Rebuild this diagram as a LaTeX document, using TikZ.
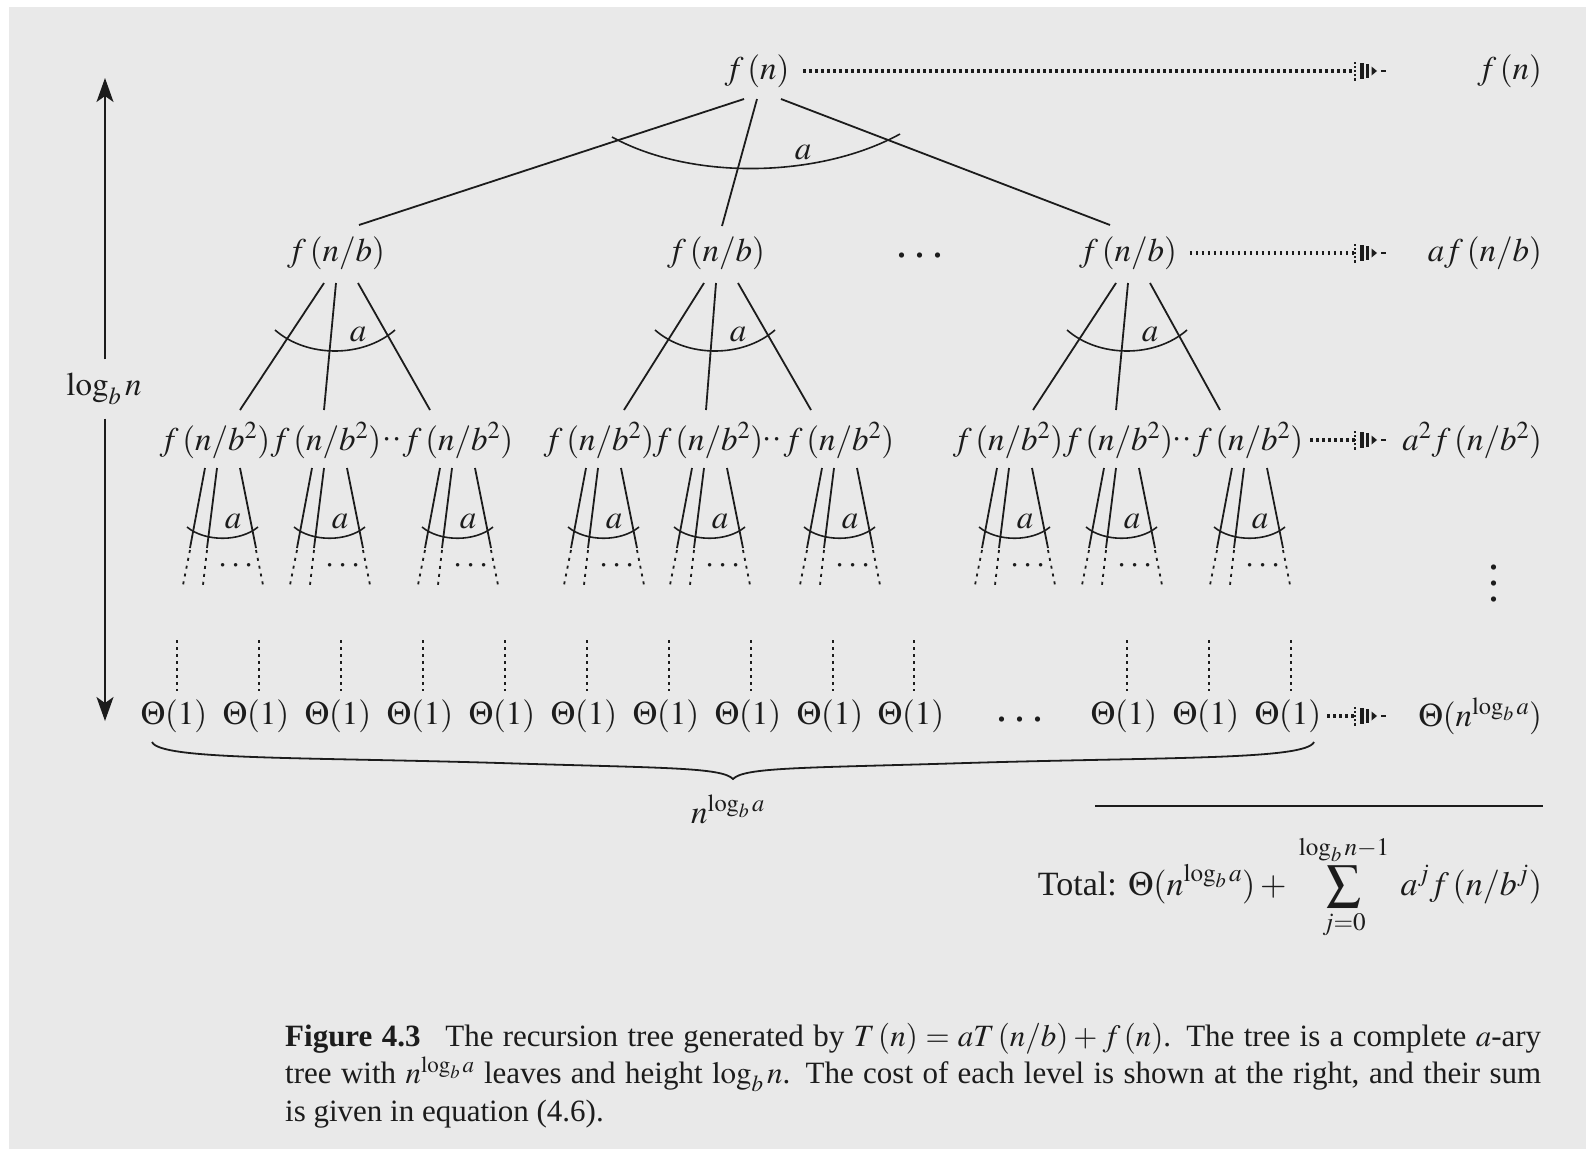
\documentclass[tikz,border=0pt]{standalone}
\usepackage{mathptmx}
\usepackage[no-math]{fontspec}
\setmainfont{Liberation Serif}
\usetikzlibrary{arrows.meta,decorations.markings}
\definecolor{paper}{HTML}{E9E9E9}
\definecolor{ink}{HTML}{1C1C1C}
\newcommand\treefont{\fontsize{33}{39}\selectfont}
% three heavy dots set on the line
\newcommand\bigdots{{\fontsize{44}{44}\selectfont .\hspace{7pt}.\hspace{7pt}.}}

% dotted arrowhead placed at the end of each cost connector
\newcommand\costtip{%
  \draw[ink, solid, line width=2.4pt, dash pattern=on 2.2pt off 2pt] (0pt,-9.5pt) -- (0pt,9.5pt);
  \fill[ink] (5pt,-8pt) rectangle (8.5pt,8pt);
  \fill[ink] (10.5pt,-7pt) rectangle (14pt,7pt);
  \fill[ink] (16.5pt,-4.5pt) -- (16.5pt,4.5pt) -- (22pt,0pt) -- cycle;
  \draw[ink, solid, line width=1.8pt] (26pt,0pt) -- (31pt,0pt);
}

% fan of three edges from a level-1 node to its children, with the arc "a"
\newcommand\fanA[5]{%
  \draw[edge] ([shift={(-12,30)}]#1.center) -- ([shift={(25,-30)}]#2.center);
  \draw[edge] ([shift={(0,30)}]#1.center) -- ([shift={(-2,-30)}]#3.center);
  \draw[edge] ([shift={(22,30)}]#1.center) -- ([shift={(-28,-30)}]#4.center);
  \draw[arcline] ([shift={(-61,77)}]#1.center) .. controls +(32,28) and +(-32,28) .. ([shift={(59,77)}]#1.center);
  \node[lbl] (#5) at ([shift={(22,82)}]#1.center) {$a$};
}

% small fan below a level-2 node, fading into dotted lines
\newcommand\fanB[3]{%
  \coordinate (fb) at ([xshift=#2pt]#1.center);
  \draw[edge] ([shift={(-28,28)}]fb) -- ([shift={(-43,108)}]fb);
  \draw[edge] ([shift={(-16,28)}]fb) -- ([shift={(-26,108)}]fb);
  \draw[edge] ([shift={(7,28)}]fb) -- ([shift={(23,108)}]fb);
  \draw[legdots] ([shift={(-43,110)}]fb) -- ([shift={(-50,145)}]fb);
  \draw[legdots] ([shift={(-26,110)}]fb) -- ([shift={(-30,145)}]fb);
  \draw[legdots] ([shift={(23,110)}]fb) -- ([shift={(30,145)}]fb);
  \draw[arcline] ([shift={(-46,87)}]fb) .. controls +(18,15) and +(-18,15) .. ([shift={(25,87)}]fb);
  \node[lbl] (#3) at ([shift={(0,82)}]fb) {$a$};
  \node[lbl] (#3d) at ([shift={(3,126)}]fb) {$\cdots$};
}

\begin{document}
\begin{tikzpicture}[x=1pt,y=-1pt,
  lbl/.style={inner sep=0pt, outer sep=0pt, text=ink, font=\treefont},
  edge/.style={draw=ink, line width=1.8pt},
  arcline/.style={draw=ink, line width=1.6pt},
  legdots/.style={draw=ink, line width=1.8pt, dash pattern=on 3pt off 5pt},
  leafdots/.style={draw=ink, line width=2.8pt, dash pattern=on 2.8pt off 4.2pt},
  costarrow/.style={draw=ink, line width=3.2pt, dash pattern=on 2.6pt off 3.4pt,
    postaction={decorate},
    decoration={markings, mark=at position 0.99999 with {\costtip}}},
  axisarrow/.style={draw=ink, line width=1.6pt, -{Stealth[length=24pt,width=17pt,inset=6pt]}}]

\useasboundingbox (0,0) rectangle (1586,1149);
\fill[white] (0,0) rectangle (1586,1149);
\fill[paper] (9,7) rectangle (1586,1149);

% ---- tree nodes ----
\node[lbl] (r) at (757,71) {$f\,(n)$};

\node[lbl] (a1) at (336,253) {$f\,(n/b)$};
\node[lbl] (a2) at (716,253) {$f\,(n/b)$};
\node[lbl] (a3) at (1128,253) {$f\,(n/b)$};
\node[lbl] (adots) at (920,256) {\bigdots};

\node[lbl] (b1) at (215,440) {$f\,(n/b^2)$};
\node[lbl] (b2) at (326,440) {$f\,(n/b^2)$};
\node[lbl] (b3) at (458,440) {$f\,(n/b^2)$};
\node[lbl] (b4) at (599,440) {$f\,(n/b^2)$};
\node[lbl] (b5) at (708,440) {$f\,(n/b^2)$};
\node[lbl] (b6) at (839,440) {$f\,(n/b^2)$};
\node[lbl] (b7) at (1008,440) {$f\,(n/b^2)$};
\node[lbl] (b8) at (1118,440) {$f\,(n/b^2)$};
\node[lbl] (b9) at (1248,440) {$f\,(n/b^2)$};
\node[lbl] (bd1) at (392,440) {${\cdot}{\cdot}$};
\node[lbl] (bd2) at (772,440) {${\cdot}{\cdot}$};
\node[lbl] (bd3) at (1182,440) {${\cdot}{\cdot}$};

% ---- leaves ----
\foreach \i/\x in {1/174,2/256,3/338,4/420,5/502,6/584,7/666,8/748,9/830,10/911,11/1124,12/1206,13/1288}{
  \node[lbl] (l\i) at (\x,716) {$\Theta(1)$};
  \draw[leafdots] ([shift={(3,-76)}]l\i.center) -- ([shift={(3,-25)}]l\i.center);
}
\node[lbl] (ldots) at (1020,720) {\bigdots};

% ---- root fan ----
\draw[edge] ([shift={(-13,28)}]r.center) -- ([shift={(23,-28)}]a1.center);
\draw[edge] ([shift={(0,28)}]r.center) -- ([shift={(6,-27)}]a2.center);
\draw[edge] ([shift={(24,28)}]r.center) -- ([shift={(-18,-28)}]a3.center);
\draw[arcline] ([shift={(-145,66)}]r.center) .. controls +(80,44) and +(-80,44) .. ([shift={(143,63)}]r.center);
\node[lbl] (ra) at ([shift={(46,82)}]r.center) {$a$};

% ---- level-1 fans ----
\fanA{a1}{b1}{b2}{b3}{a1a}
\fanA{a2}{b4}{b5}{b6}{a2a}
\fanA{a3}{b7}{b8}{b9}{a3a}

% ---- level-2 fans ----
\fanB{b1}{18}{b1a}
\fanB{b2}{14}{b2a}
\fanB{b3}{10}{b3a}
\fanB{b4}{15}{b4a}
\fanB{b5}{12}{b5a}
\fanB{b6}{11}{b6a}
\fanB{b7}{17}{b7a}
\fanB{b8}{14}{b8a}
\fanB{b9}{12}{b9a}

% ---- per-level costs ----
\node[lbl, anchor=east] (c0) at (1542,71) {$f\,(n)$};
\node[lbl, anchor=east] (c1) at (1542,253) {$af\,(n/b)$};
\node[lbl, anchor=east] (c2) at (1542,440) {$a^2f\,(n/b^2)$};
\node[lbl, anchor=east] (c3) at (1542,716) {$\Theta(n^{\log_b a})$};
\node[lbl, align=center, font=\fontsize{44}{16}\selectfont] (cv) at (1494,584) {.\\.\\.};

\coordinate (e0) at (1355,71);
\coordinate (e1) at (1355,253);
\coordinate (e2) at (1355,440);
\coordinate (e3) at (1355,716);
\draw[costarrow] ([xshift=14pt]r.east) -- (e0);
\draw[costarrow] ([xshift=13pt]a3.east) -- (e1);
\draw[costarrow] ([xshift=7pt]b9.east) -- (e2);
\draw[costarrow] ([xshift=6pt]l13.east) -- (e3);

% ---- height axis ----
\node[lbl] (lg) at (104,389) {$\log_b n$};
\coordinate (atop) at (105,78);
\coordinate (abot) at (105,721);
\draw[axisarrow] ([xshift=1pt,yshift=14pt]lg.north) -- (atop);
\draw[axisarrow] ([xshift=1pt,yshift=-14pt]lg.south) -- (abot);

% ---- brace under the leaves ----
\draw[ink, line width=1.8pt]
  (152,742) .. controls (160,760) and (300,757) .. (500,763)
  .. controls (660,768) and (722,767) .. (733,779)
  .. controls (744,767) and (806,768) .. (966,763)
  .. controls (1166,757) and (1306,760) .. (1314,742);
\node[lbl] (nl) at (728,809) {$n^{\log_b a}$};

% ---- total ----
\draw[ink, line width=1.6pt] (1095,806) -- (1543,806);
\node[lbl, anchor=east, font=\fontsize{34}{40}\selectfont] (tot) at (1542,887)
  {Total: $\displaystyle\Theta(n^{\log_b a}) + \;\sum_{j=0}^{\log_b n-1}\; a^j f\,(n/b^j)$};

% ---- caption ----
\node[anchor=base west, inner sep=0pt, text=ink] (cap) at (285,1046)
  {\parbox[t]{1256pt}{\fontsize{31}{37.5}\selectfont
  \textbf{Figure 4.3}\hspace{0.8em}The recursion tree generated by $T\,(n)=aT\,(n/b)+f\,(n)$. The tree is a complete $a$-ary\linebreak
  tree with $n^{\log_b a}$ leaves and height $\log_b n$. The cost of each level is shown at the right, and their sum\linebreak
  is given in equation (4.6).}};

\end{tikzpicture}
\end{document}
